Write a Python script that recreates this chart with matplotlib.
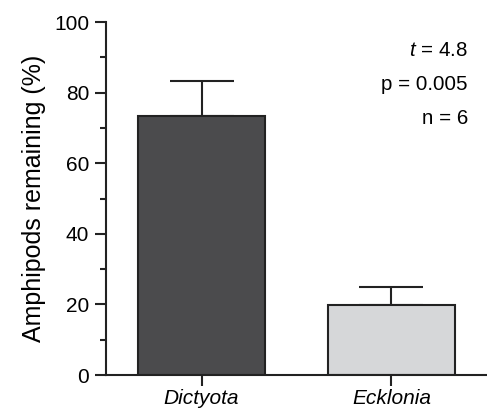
import matplotlib
matplotlib.use("Agg")
import matplotlib.pyplot as plt

# data
species = ["Dictyota", "Ecklonia"]
remaining = [73.4, 19.8]
sem = [9.9, 5.1]
bar_colors = ["#4b4b4d", "#d6d7d9"]
stats_lines = ["$\\it{t}$ = 4.8", "p = 0.005", "n = 6"]

plt.rcParams['font.family'] = ['Liberation Sans', 'DejaVu Sans']
plt.rcParams['mathtext.fontset'] = 'custom'
plt.rcParams['mathtext.it'] = 'Liberation Sans:italic'

fig = plt.figure(figsize=(4.87, 4.12), dpi=100)
ax = fig.add_axes([0.2177, 0.0898, 0.7823, 0.8568])

x = list(range(len(species)))
ax.bar(x, remaining, width=0.67, color=bar_colors, edgecolor="#222222",
       linewidth=1.5, zorder=2)
ax.errorbar(x, remaining, yerr=[[0, 0], sem], fmt="none", ecolor="#222222",
            elinewidth=1.5, capsize=23, capthick=1.5, zorder=1)

ax.set_xlim(-0.503, 1.503)
ax.set_ylim(0, 100)
ax.set_yticks([0, 20, 40, 60, 80, 100])
ax.set_yticks([10, 30, 50, 70, 90], minor=True)
ax.set_xticks(x)
ax.set_xticklabels(species, fontstyle="italic", fontsize=15)

for side in ["top", "right"]:
    ax.spines[side].set_visible(False)
for side in ["left", "bottom"]:
    ax.spines[side].set_linewidth(1.5)
    ax.spines[side].set_color("#222222")

ax.tick_params(axis="y", which="major", length=8, width=1.5, labelsize=15,
               color="#222222", pad=4)
ax.tick_params(axis="y", which="minor", length=4.5, width=1.5, color="#222222")
ax.tick_params(axis="x", which="major", length=8, width=1.5, color="#222222",
               pad=2)

ax.set_ylabel("Amphipods remaining (%)", fontsize=18, labelpad=6)

ys = [0.92, 0.822, 0.727]
for s, yy in zip(stats_lines, ys):
    ax.text(0.95, yy, s, transform=ax.transAxes, ha="right", va="center",
            fontsize=14.8)

fig.savefig("out.png", dpi=100)
